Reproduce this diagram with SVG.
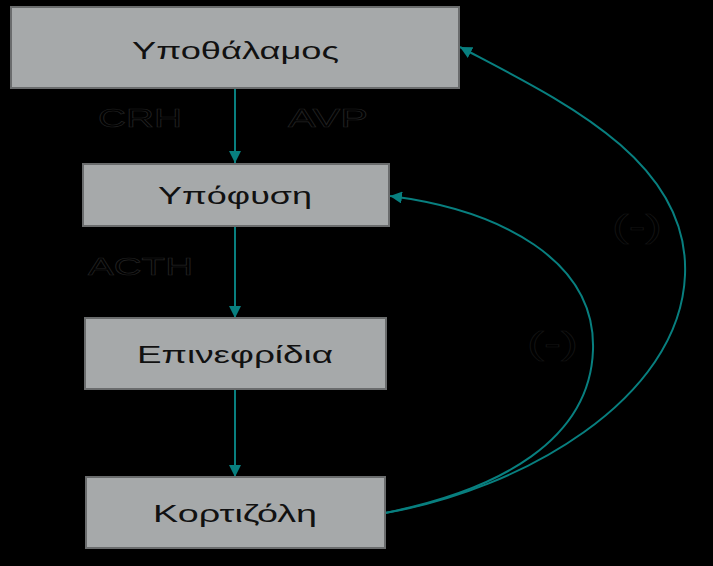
<svg xmlns="http://www.w3.org/2000/svg" width="713" height="566" viewBox="0 0 713 566">
<style>
.box{fill:#a6a9aa;stroke:#6a6c6d;stroke-width:2}
.t{font-family:"Liberation Sans",Arial,sans-serif;font-size:23px;fill:#111;text-anchor:start}
.lab{font-family:"Liberation Sans",Arial,sans-serif;fill:#000;stroke:#232323;stroke-width:0.6}
.lab2{font-family:"Liberation Sans",Arial,sans-serif;fill:#000;stroke:#141414;stroke-width:0.6}
.c{fill:none;stroke:#087f7f;stroke-width:2}
</style>
<defs>
<marker id="ah" viewBox="0 0 12 12" refX="12" refY="6" markerWidth="12" markerHeight="12" markerUnits="userSpaceOnUse" orient="auto">
<path d="M0,0 L12,6 L0,12 Z" fill="#087f7f"/>
</marker>
</defs>
<rect width="713" height="566" fill="#000"/>
<g id="connectors">
<line class="c" x1="235" y1="89" x2="235" y2="163" marker-end="url(#ah)"/>
<line class="c" x1="235" y1="227" x2="235" y2="318" marker-end="url(#ah)"/>
<line class="c" x1="235" y1="390" x2="235" y2="477" marker-end="url(#ah)"/>
<path class="c" d="M385,513 C500,490 590,440 593,350 C596,260 500,210 390,196" marker-end="url(#ah)"/>
<path class="c" d="M385,513 C520,490 680,400 685,275 C690,160 560,100 460,47" marker-end="url(#ah)"/>
</g>
<g id="n1"><rect class="box" x="11" y="7" width="448" height="81"/><text class="t" x="132" y="59" textLength="207" lengthAdjust="spacingAndGlyphs">Υποθάλαμος</text></g>
<g id="n2"><rect class="box" x="83" y="164" width="306" height="62"/><text class="t" x="158" y="204" textLength="154" lengthAdjust="spacingAndGlyphs">Υπόφυση</text></g>
<g id="n3"><rect class="box" x="85" y="318" width="301" height="71"/><text class="t" x="137" y="363" textLength="196" lengthAdjust="spacingAndGlyphs">Επινεφρίδια</text></g>
<g id="n4"><rect class="box" x="86" y="477" width="299" height="71"/><text class="t" x="153" y="522" textLength="164" lengthAdjust="spacingAndGlyphs">Κορτιζόλη</text></g>
<g id="labels">
<text class="lab" x="98" y="127" font-size="25" textLength="84" lengthAdjust="spacingAndGlyphs">CRH</text>
<text class="lab" x="288" y="127" font-size="25" textLength="80" lengthAdjust="spacingAndGlyphs">AVP</text>
<text class="lab" x="88" y="275" font-size="24" textLength="105" lengthAdjust="spacingAndGlyphs">ACTH</text>
<text class="lab2" x="612" y="237" font-size="32" textLength="50" lengthAdjust="spacingAndGlyphs">(-)</text>
<text class="lab2" x="527" y="354" font-size="32" textLength="51" lengthAdjust="spacingAndGlyphs">(-)</text>
</g>
</svg>
